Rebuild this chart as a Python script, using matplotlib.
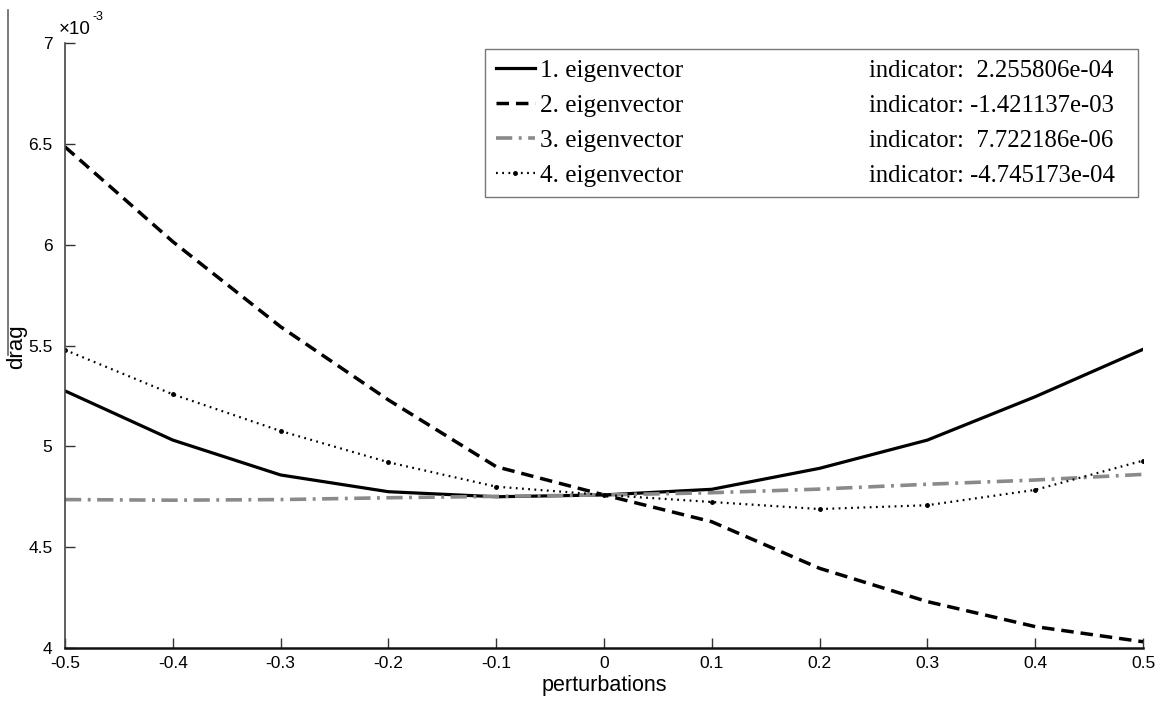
import matplotlib
matplotlib.use("Agg")
import matplotlib.pyplot as plt
from matplotlib.lines import Line2D

perturbations = [-0.5, -0.4, -0.3, -0.2, -0.1, 0.0, 0.1, 0.2, 0.3, 0.4, 0.5]
eig1 = [5.275, 5.031, 4.858, 4.775, 4.750, 4.759, 4.787, 4.891, 5.031, 5.246, 5.481]
eig2 = [6.485, 6.015, 5.593, 5.230, 4.899, 4.759, 4.626, 4.395, 4.230, 4.106, 4.031]
eig3 = [4.736, 4.733, 4.736, 4.745, 4.752, 4.759, 4.770, 4.788, 4.812, 4.833, 4.861]
eig4 = [5.478, 5.258, 5.076, 4.921, 4.800, 4.759, 4.724, 4.689, 4.708, 4.784, 4.929]
labels = ["1. eigenvector", "2. eigenvector", "3. eigenvector", "4. eigenvector"]
indicators = ["indicator:  2.255806e-04", "indicator: -1.421137e-03",
              "indicator:  7.722186e-06", "indicator: -4.745173e-04"]
xticks = [-0.5, -0.4, -0.3, -0.2, -0.1, 0, 0.1, 0.2, 0.3, 0.4, 0.5]
xticklabels = ["-0.5", "-0.4", "-0.3", "-0.2", "-0.1", "0", "0.1", "0.2", "0.3", "0.4", "0.5"]
yticks = [4, 4.5, 5, 5.5, 6, 6.5, 7]
yticklabels = ["4", "4.5", "5", "5.5", "6", "6.5", "7"]

W, H = 1164, 702
fig = plt.figure(figsize=(W / 100, H / 100), dpi=100)
fig.patch.set_facecolor("white")
ax = fig.add_axes([65 / W, 1 - 648 / H, (1143 - 65) / W, (648 - 43) / H])

sans = "Liberation Sans"
serif = "Liberation Serif"

l1, = ax.plot(perturbations, eig1, color="black", lw=2.3, ls="-")
l2, = ax.plot(perturbations, eig2, color="black", lw=2.5, ls=(0, (3.6, 2.0)))
l3, = ax.plot(perturbations, eig3, color="#8a8a8a", lw=2.6, ls=(0, (4.5, 1.8, 0.8, 1.8)))
l4, = ax.plot(perturbations, eig4, color="black", lw=1.6, ls=(0, (0.8, 2.0)),
              marker=".", markersize=5)

ax.set_xlim(-0.5, 0.5)
ax.set_ylim(4, 7)
ax.set_xticks(xticks)
ax.set_xticklabels(xticklabels, fontfamily=sans, fontsize=12.5)
ax.set_yticks(yticks)
ax.set_yticklabels(yticklabels, fontfamily=sans, fontsize=12.5)
ax.tick_params(direction="in", length=7, width=1, color="#333333", pad=6)
ax.tick_params(axis="y", pad=9)
for s in ["top", "right"]:
    ax.spines[s].set_visible(False)
ax.spines["bottom"].set_linewidth(1.8)
ax.spines["bottom"].set_color("#111111")
ax.spines["left"].set_linewidth(1.2)
ax.spines["left"].set_color("#444444")

leg = ax.legend([l1, l2, l3, l4], labels, loc="upper left",
                bbox_to_anchor=((485 - 65) / 1078, 0.5, (1138 - 485) / 1078, (648 - 49) / 605 - 0.5),
                mode="expand", borderaxespad=0, fancybox=False, frameon=True,
                prop={"family": serif, "size": 18.2}, handlelength=1.55,
                handletextpad=0.2, borderpad=0.42, labelspacing=0.48)
leg.get_frame().set_edgecolor("#555555")
leg.get_frame().set_linewidth(1.0)

fig.canvas.draw()
for t, ind in zip(leg.get_texts(), indicators):
    bb = t.get_window_extent()
    yc = (bb.y0 + bb.y1) / 2
    fig.text(869 / W, yc / H, ind, fontfamily=serif, fontsize=17.8, va="center", ha="left")

fig.text(604 / W, 1 - 686 / H, "perturbations", fontfamily=sans, fontsize=15.5,
         ha="center", va="center")
fig.text(17 / W, 1 - 347 / H, "drag", fontfamily=sans, fontsize=16, rotation=90,
         ha="center", va="center")
fig.text(59 / W, 1 - 29 / H, "\u00d710", fontfamily=sans, fontsize=13.5, ha="left", va="center")
fig.text(93 / W, 1 - 17 / H, "-3", fontfamily=sans, fontsize=9, ha="left", va="center")
fig.add_artist(Line2D([8 / W, 8 / W], [1 - 10 / H, 1 - 355 / H], color="#555555", lw=1.1,
                      transform=fig.transFigure))

fig.savefig("out.png", dpi=100)
